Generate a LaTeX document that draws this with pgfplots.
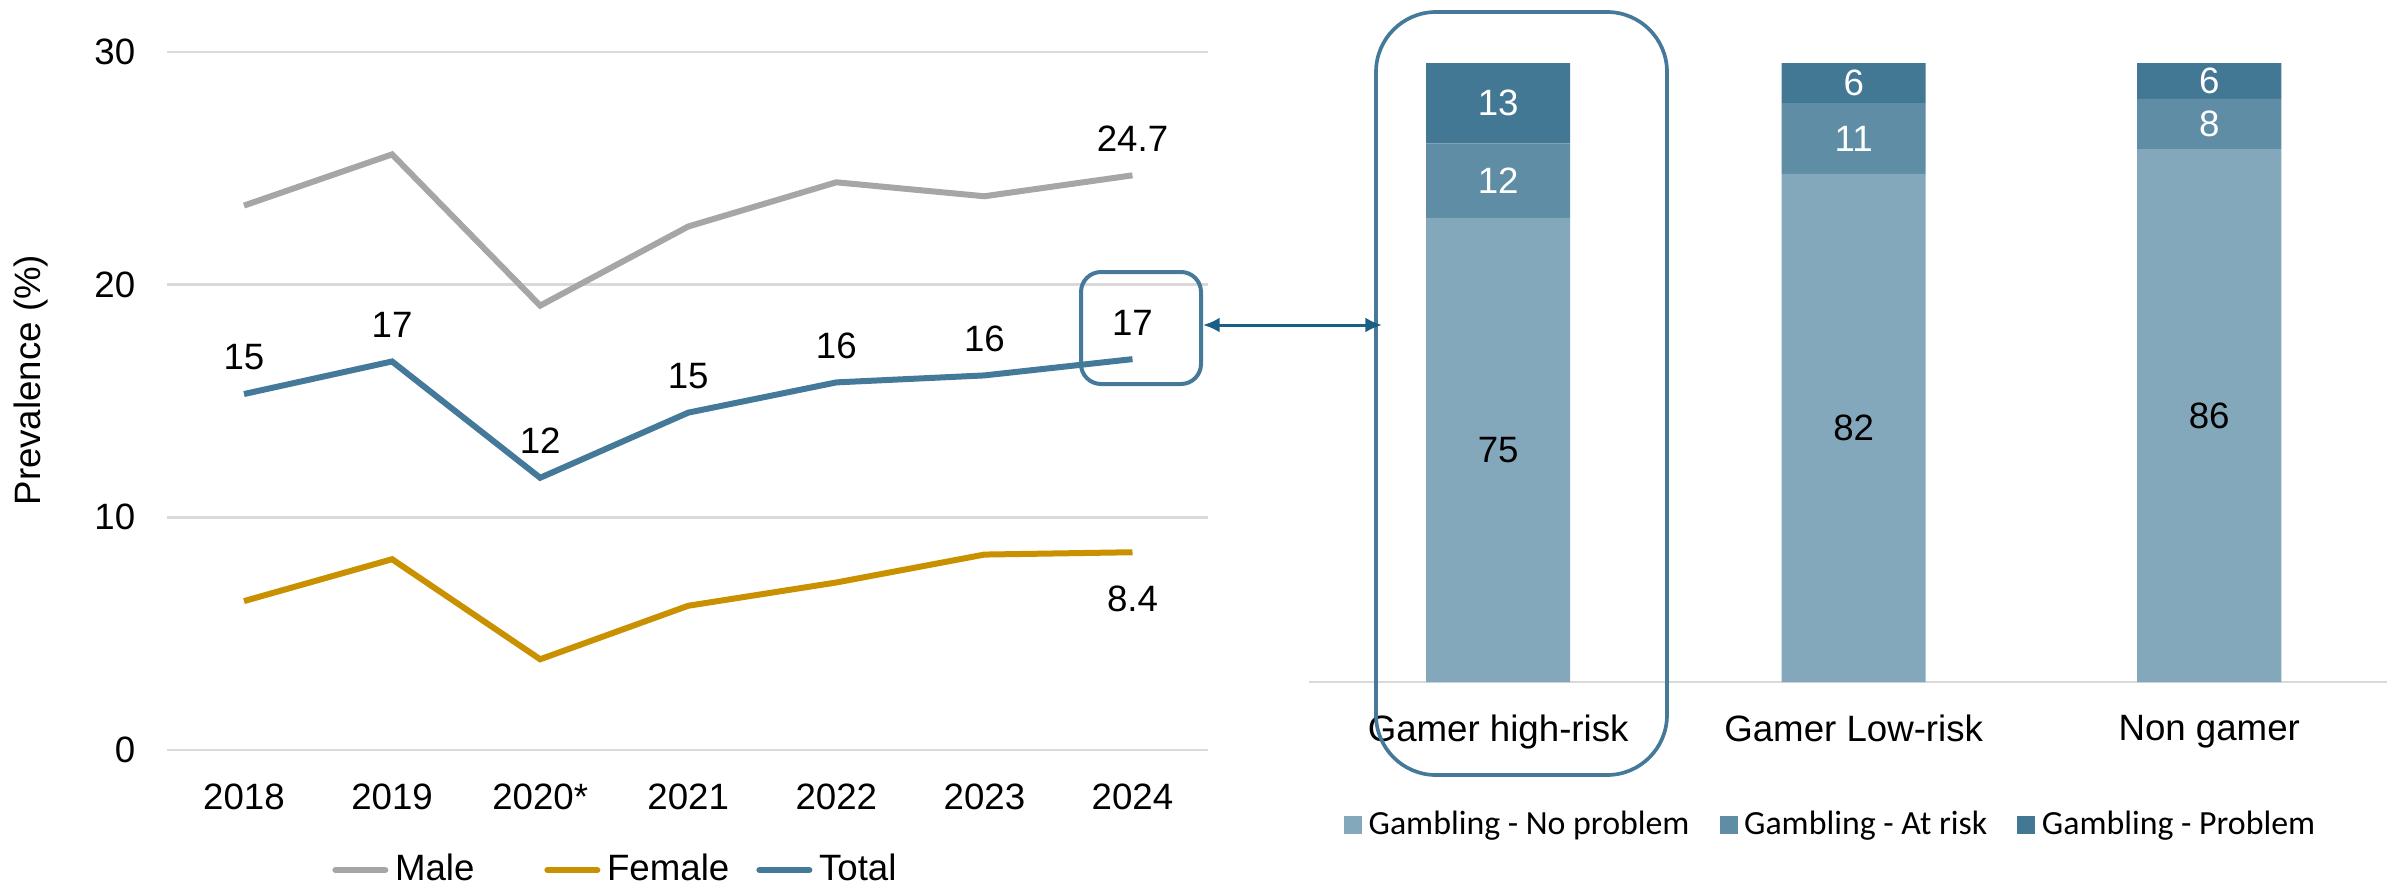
\documentclass[border=0pt]{standalone}
\usepackage{pgfplots}
\pgfplotsset{compat=1.18}
\usepackage{fontspec}
\setmainfont{Liberation Sans}
\newfontfamily\carl{Carlito}
\usetikzlibrary{arrows.meta}
\definecolor{cmale}{HTML}{A6A6A6}
\definecolor{cfemale}{HTML}{C99000}
\definecolor{ctotal}{HTML}{44799A}
\definecolor{cgrid}{HTML}{D9D9D9}
\definecolor{cnop}{HTML}{84A8BB}
\definecolor{crisk}{HTML}{5E8DA5}
\definecolor{cprob}{HTML}{437895}
\definecolor{carrow}{HTML}{1B5F86}
\begin{document}
\begin{tikzpicture}
\useasboundingbox (0,0) rectangle (717.6pt,266.1pt);
% ---------------- left line chart ----------------
\begin{axis}[
  at={(50.1pt,41.1pt)}, anchor=south west,
  scale only axis, width=312.3pt, height=209.4pt,
  xmin=-0.52, xmax=6.51, ymin=0, ymax=30,
  xtick={0,...,6},
  xticklabels={2018,2019,2020*,2021,2022,2023,2024},
  ytick={0,10,20,30},
  /pgf/number format/assume math mode=true,
  ymajorgrids, grid style={cgrid, line width=0.8pt},
  axis line style={draw=none}, tick style={draw=none},
  font=\fontsize{11}{13}\selectfont,
  xticklabel style={yshift=-6.5pt},
  yticklabel style={xshift=-6pt},
  ylabel={Prevalence (\%)},
  ylabel style={at={(axis description cs:-0.131,0.53)}, anchor=center},
  legend style={at={(0.433,-0.172)}, anchor=center, draw=none, fill=none,
    legend columns=3, font=\fontsize{11}{13}\selectfont,
    /tikz/every even column/.append style={column sep=6.1pt}},
  legend image code/.code={\draw[#1, line cap=round] (0pt,0pt) -- (15pt,0pt);},
  point meta=explicit symbolic,
  nodes near coords,
  every node near coord/.append style={anchor=center, yshift=11pt, font=\fontsize{11}{13}\selectfont, text=black},
]
\addplot[cmale, line width=1.8pt, mark=none] coordinates {
 (0,23.4)[] (1,25.6)[] (2,19.1)[] (3,22.5)[] (4,24.4)[] (5,23.8)[] (6,24.7)[24.7]};
\addlegendentry{\makebox[36.7pt][l]{Male}}
\addplot[cfemale, line width=1.8pt, mark=none, every node near coord/.append style={yshift=-25pt}] coordinates {
 (0,6.4)[] (1,8.2)[] (2,3.9)[] (3,6.2)[] (4,7.2)[] (5,8.4)[] (6,8.5)[8.4]};
\addlegendentry{\makebox[36.7pt][l]{Female}}
\addplot[ctotal, line width=1.8pt, mark=none] coordinates {
 (0,15.3)[15] (1,16.7)[17] (2,11.7)[12] (3,14.5)[15] (4,15.8)[16] (5,16.1)[16] (6,16.8)[17]};
\addlegendentry{Total}
\end{axis}
% ---------------- right stacked bar chart ----------------
\begin{axis}[
  at={(392.7pt,61.5pt)}, anchor=south west,
  scale only axis, width=323.4pt, height=185.7pt,
  xmin=-0.532, xmax=2.50, ymin=0, ymax=100,
  ybar stacked, bar width=43.2pt,
  xtick={0,1,2},
  xticklabels={Gamer high-risk,Gamer Low-risk,Non gamer},
  axis x line=bottom, axis y line=none,
  x axis line style={-, draw=cgrid, line width=0.8pt},
  tick style={draw=none},
  font=\fontsize{11}{13}\selectfont,
  xticklabel style={yshift=-4.3pt},
  point meta=explicit symbolic,
  nodes near coords,
  every node near coord/.append style={anchor=center, font=\fontsize{11}{13}\selectfont},
  legend style={at={(0.486,-0.231)}, anchor=center, draw=none, fill=none,
    legend columns=3, font=\carl\fontsize{10.15}{12}\selectfont,
    /tikz/every even column/.append style={column sep=7pt}},
  legend image code/.code={\fill[#1] (0pt,-2.7pt) rectangle (5.4pt,2.7pt);},
]
\addplot[fill=cnop, draw=none, every node near coord/.append style={text=black}] coordinates {
 (0,75)[75] (1,82.1)[82] (2,86.1)[86]};
\addlegendentry{Gambling - No problem}
\addplot[fill=crisk, draw=none, every node near coord/.append style={text=white}] coordinates {
 (0,12)[12] (1,11.4)[11] (2,8.1)[8]};
\addlegendentry{Gambling - At risk}
\addplot[fill=cprob, draw=none, every node near coord/.append style={text=white}] coordinates {
 (0,13)[13] (1,6.5)[6] (2,5.8)[6]};
\addlegendentry{Gambling - Problem}
\end{axis}
% ---------------- annotations ----------------
\draw[ctotal, line width=1.2pt, rounded corners=6pt] (324.3pt,150.9pt) rectangle (360.3pt,184.5pt);
\draw[ctotal, line width=1.1pt, rounded corners=18pt] (412.8pt,33.6pt) rectangle (500.1pt,262.5pt);
\draw[carrow, line width=0.9pt, {Latex[length=5pt,width=4.5pt]}-{Latex[length=5pt,width=4.5pt]}] (360.9pt,168.6pt) -- (414.6pt,168.6pt);
\end{tikzpicture}
\end{document}
